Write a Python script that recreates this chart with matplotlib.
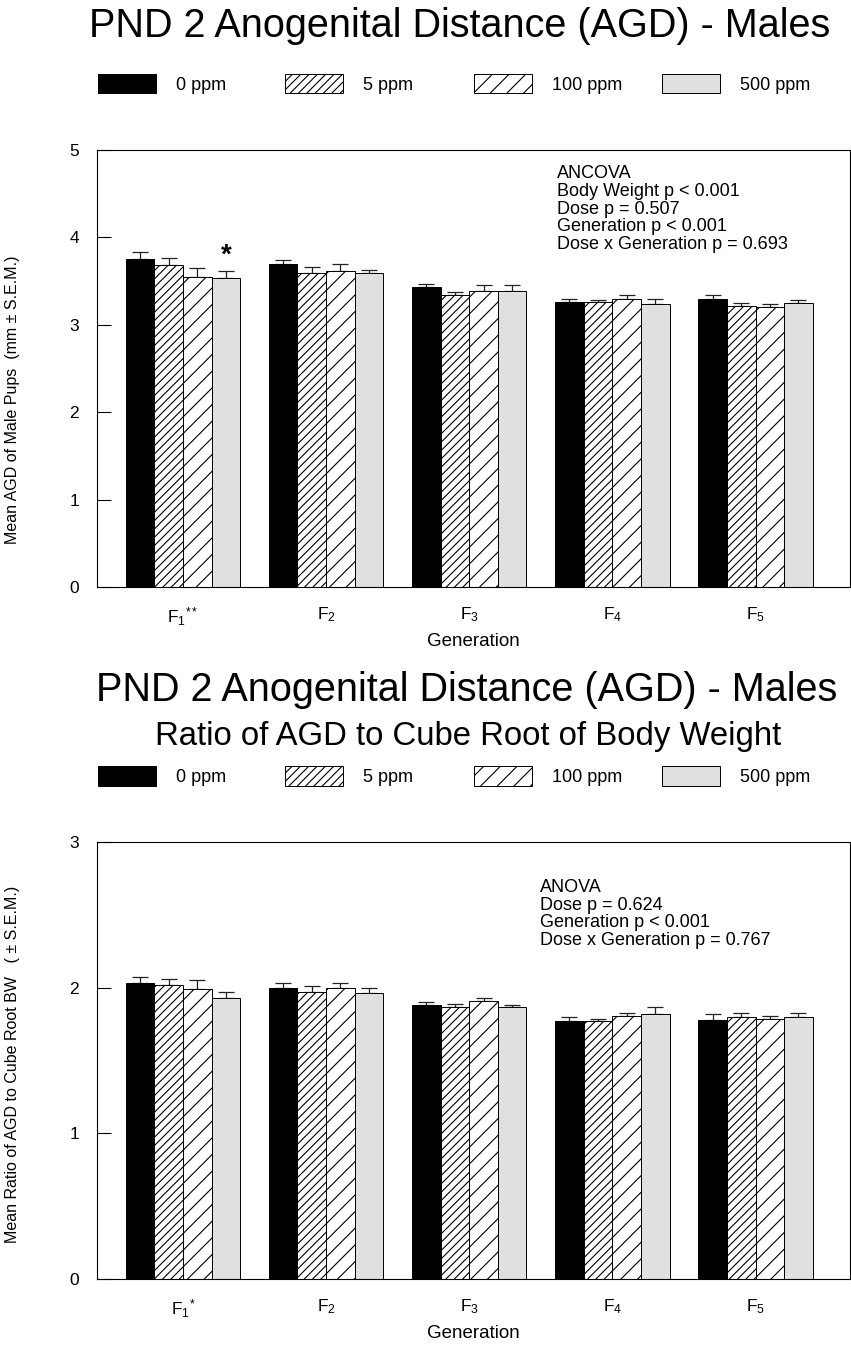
import matplotlib
matplotlib.use("Agg")
import matplotlib.pyplot as plt
import numpy as np
from matplotlib.patches import Rectangle

plt.rcParams["font.family"] = ["Liberation Sans", "DejaVu Sans"]
plt.rcParams["mathtext.fontset"] = "custom"
plt.rcParams["mathtext.rm"] = "Liberation Sans"
plt.rcParams["mathtext.it"] = "Liberation Sans"
plt.rcParams["hatch.linewidth"] = 0.8

# ---- data ----
doses = ["0 ppm", "5 ppm", "100 ppm", "500 ppm"]
gen_labels_top = [r"F$_{1}{}^{**}$", r"F$_{2}$", r"F$_{3}$", r"F$_{4}$", r"F$_{5}$"]
gen_labels_bot = [r"F$_{1}{}^{*}$", r"F$_{2}$", r"F$_{3}$", r"F$_{4}$", r"F$_{5}$"]

# AGD (mm), rows = dose, cols = generation
agd_mean = [
    [3.75, 3.69, 3.43, 3.26, 3.29],
    [3.68, 3.59, 3.34, 3.26, 3.22],
    [3.55, 3.62, 3.39, 3.30, 3.20],
    [3.54, 3.59, 3.39, 3.24, 3.25],
]
agd_sem = [
    [0.08, 0.05, 0.04, 0.04, 0.05],
    [0.08, 0.07, 0.04, 0.02, 0.03],
    [0.10, 0.07, 0.06, 0.04, 0.04],
    [0.07, 0.04, 0.07, 0.06, 0.03],
]

# AGD / cube root BW
ratio_mean = [
    [2.03, 2.00, 1.88, 1.77, 1.78],
    [2.02, 1.97, 1.87, 1.77, 1.80],
    [1.99, 2.00, 1.91, 1.805, 1.785],
    [1.93, 1.96, 1.865, 1.82, 1.80],
]
ratio_sem = [
    [0.045, 0.035, 0.02, 0.03, 0.04],
    [0.04, 0.04, 0.015, 0.015, 0.025],
    [0.06, 0.03, 0.02, 0.02, 0.02],
    [0.04, 0.04, 0.015, 0.05, 0.025],
]

colors = ["black", "white", "white", "#e0e0e0"]
hatches = [None, "////", "//", None]

W, H = 851, 1349
fig = plt.figure(figsize=(W / 100, H / 100), dpi=100)


def fy(py):
    return 1 - py / H


def draw_panel(rect, means, sems, ylim, yticks, xlabels, ylabel, ylabel_y, note, note_xy):
    ax = fig.add_axes(rect)
    x = np.arange(len(xlabels))
    width = 0.2
    for j in range(len(doses)):
        pos = x + (j - 1.5) * width
        ax.bar(pos, means[j], width, color=colors[j], edgecolor="black",
               linewidth=0.7, hatch=hatches[j], zorder=2)
        ax.errorbar(pos, means[j], yerr=[np.zeros(len(x)), sems[j]], fmt="none",
                    ecolor="#222222", elinewidth=0.9, capsize=5.5, capthick=0.9, zorder=1)
    ax.set_xlim(-0.60, 4.66)
    ax.set_ylim(*ylim)
    ax.set_yticks(yticks)
    ax.set_xticks(x)
    ax.set_xticklabels(xlabels, fontsize=12.5)
    ax.tick_params(axis="x", length=0, pad=13)
    ax.tick_params(axis="y", direction="in", length=10, width=0.8, pad=13, labelsize=12.5)
    for s in ax.spines.values():
        s.set_linewidth(0.8)
    ax.set_xlabel("Generation", fontsize=13.5, labelpad=4)
    ax.set_ylabel(ylabel, fontsize=11.5)
    ax.yaxis.set_label_coords(-0.102, ylabel_y)
    ax.text(note_xy[0], note_xy[1], note, transform=ax.transAxes, fontsize=13,
            va="top", ha="left", linespacing=1.05)
    return ax


def draw_legend(py_top, py_bot):
    box_x = [98, 285, 474, 662]
    for j, lab in enumerate(doses):
        r = Rectangle((box_x[j] / W, fy(py_bot)), 58 / W, (py_bot - py_top) / H,
                      transform=fig.transFigure, facecolor=colors[j], edgecolor="black",
                      linewidth=0.7, hatch=hatches[j])
        fig.add_artist(r)
        fig.text((box_x[j] + 78) / W, fy((py_top + py_bot) / 2 + 2), lab,
                 fontsize=13, va="center", ha="left")


# ---- top panel ----
fig.text(460 / W, fy(26), "PND 2 Anogenital Distance (AGD) - Males",
         fontsize=28.5, ha="center", va="center")
draw_legend(74, 93)
ax1 = draw_panel([97 / W, fy(587), 753 / W, 437 / H], agd_mean, agd_sem, (0, 5),
                 [0, 1, 2, 3, 4, 5], gen_labels_top,
                 "Mean AGD of Male Pups  (mm \u00b1 S.E.M.)", 0.428,
                 "ANCOVA\nBody Weight p < 0.001\nDose p = 0.507\n"
                 "Generation p < 0.001\nDose x Generation p = 0.693",
                 (0.611, 0.965))
# significance star over F1 500 ppm
ax1.annotate("*", xy=(0 + 1.5 * 0.2, agd_mean[3][0] + agd_sem[3][0]),
             xytext=(0, 2), textcoords="offset points", ha="center", va="bottom",
             fontsize=20, fontweight="bold")

# ---- bottom panel ----
fig.text(467 / W, fy(690), "PND 2 Anogenital Distance (AGD) - Males",
         fontsize=28.5, ha="center", va="center")
fig.text(468 / W, fy(737), "Ratio of AGD to Cube Root of Body Weight",
         fontsize=23.7, ha="center", va="center")
draw_legend(766, 786)
draw_panel([97 / W, fy(1279), 753 / W, 437 / H], ratio_mean, ratio_sem, (0, 3),
           [0, 1, 2, 3], gen_labels_bot,
           "Mean Ratio of AGD to Cube Root BW   ( \u00b1 S.E.M.)", 0.492,
           "ANOVA\nDose p = 0.624\nGeneration p < 0.001\nDose x Generation p = 0.767",
           (0.588, 0.915))

fig.savefig("out.png", dpi=100)
